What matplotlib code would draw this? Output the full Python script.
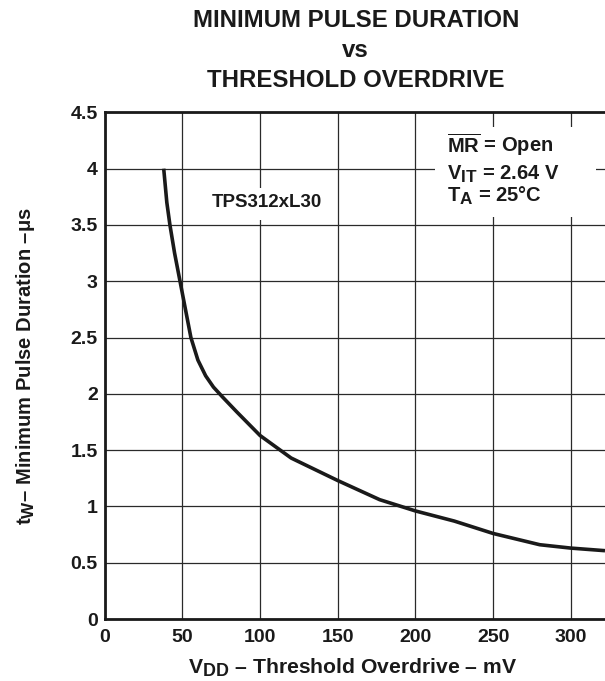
import matplotlib
matplotlib.use('Agg')
import matplotlib.pyplot as plt
import matplotlib._mathtext as mathtext_internal
from matplotlib.patches import Rectangle

plt.rcParams['font.family'] = ['Liberation Sans', 'DejaVu Sans']
plt.rcParams['font.weight'] = 'bold'
plt.rcParams['mathtext.fontset'] = 'custom'
plt.rcParams['mathtext.rm'] = 'Liberation Sans:bold'
plt.rcParams['mathtext.it'] = 'Liberation Sans:bold'
plt.rcParams['mathtext.bf'] = 'Liberation Sans:bold'
# subscripts in the reference are almost full size
mathtext_internal.SHRINK_FACTOR = 0.85

# curve
overdrive = [38, 40, 42, 45, 48.5, 52, 55.5, 60, 65, 70, 76, 85, 100, 120,
             150, 177, 200, 225, 250, 280, 300, 322]
pulse = [4.0, 3.7, 3.5, 3.25, 3.0, 2.75, 2.5, 2.3, 2.16, 2.06, 1.97, 1.84,
         1.63, 1.43, 1.23, 1.06, 0.96, 0.87, 0.76, 0.66, 0.63, 0.607]

xticks = [0, 50, 100, 150, 200, 250, 300]
yticks = [0, 0.5, 1, 1.5, 2, 2.5, 3, 3.5, 4, 4.5]
ytick_labels = ['0', '0.5', '1', '1.5', '2', '2.5', '3', '3.5', '4', '4.5']

ink = '#1a1a1a'

fig = plt.figure(figsize=(6.05, 6.81), dpi=100)
ax = fig.add_axes([0.173, 0.091, 0.827, 0.744])

ax.plot(overdrive, pulse, color=ink, lw=2.6, solid_capstyle='butt',
        solid_joinstyle='round', zorder=3)

ax.set_xlim(0, 322)
ax.set_ylim(0, 4.5)
ax.set_xticks(xticks)
ax.set_yticks(yticks)
ax.set_yticklabels(ytick_labels)
ax.grid(True, color='#2a2a2a', lw=0.9)
ax.set_axisbelow(True)
ax.tick_params(length=0, labelsize=14, colors=ink)
ax.tick_params(axis='x', pad=7)
ax.tick_params(axis='y', pad=5)
for lab in ax.get_xticklabels() + ax.get_yticklabels():
    lab.set_fontweight('bold')

for s in ['left', 'bottom', 'top']:
    ax.spines[s].set_linewidth(2.0)
    ax.spines[s].set_color(ink)
ax.spines['right'].set_visible(False)

# titles
for txt, yb in [('MINIMUM PULSE DURATION', 0.9608),
                ('vs', 0.9163),
                ('THRESHOLD OVERDRIVE', 0.8722)]:
    fig.text(0.588, yb, txt, ha='center', va='baseline',
             fontsize=17.3, fontweight='bold', color=ink)

ax.set_xlabel(r'$\mathrm{V_{DD}}$ – Threshold Overdrive – mV', fontsize=15.2,
              fontweight='bold', color=ink)
ax.xaxis.set_label_coords(0.495, -0.075)
ax.set_ylabel(r'$\mathrm{t_{W}}$– Minimum Pulse Duration –μs', fontsize=14.5,
              fontweight='bold', color=ink)
ax.yaxis.set_label_coords(-0.135, 0.5)

# white boxes that break the grid behind the labels
ax.add_patch(Rectangle((62, 3.54), 78, 0.29, facecolor='white',
                       edgecolor='none', zorder=2))
ax.add_patch(Rectangle((212.5, 3.57), 104, 0.80, facecolor='white',
                       edgecolor='none', zorder=2))

ax.text(69, 3.66, 'TPS312xL30', fontsize=13.5, fontweight='bold', color=ink,
        va='baseline', ha='left', zorder=4)

cond = [r'$\overline{\mathrm{MR}}$ = Open',
        r'$\mathrm{V_{IT}}$ = 2.64 V',
        r'$\mathrm{T_{A}}$ = 25°C']
cond_y = [4.15, 3.90, 3.71]
for txt, yb in zip(cond, cond_y):
    ax.text(220.5, yb, txt, fontsize=14.5, fontweight='bold', color=ink,
            va='baseline', ha='left', zorder=4)

fig.savefig('out.png', dpi=100)
